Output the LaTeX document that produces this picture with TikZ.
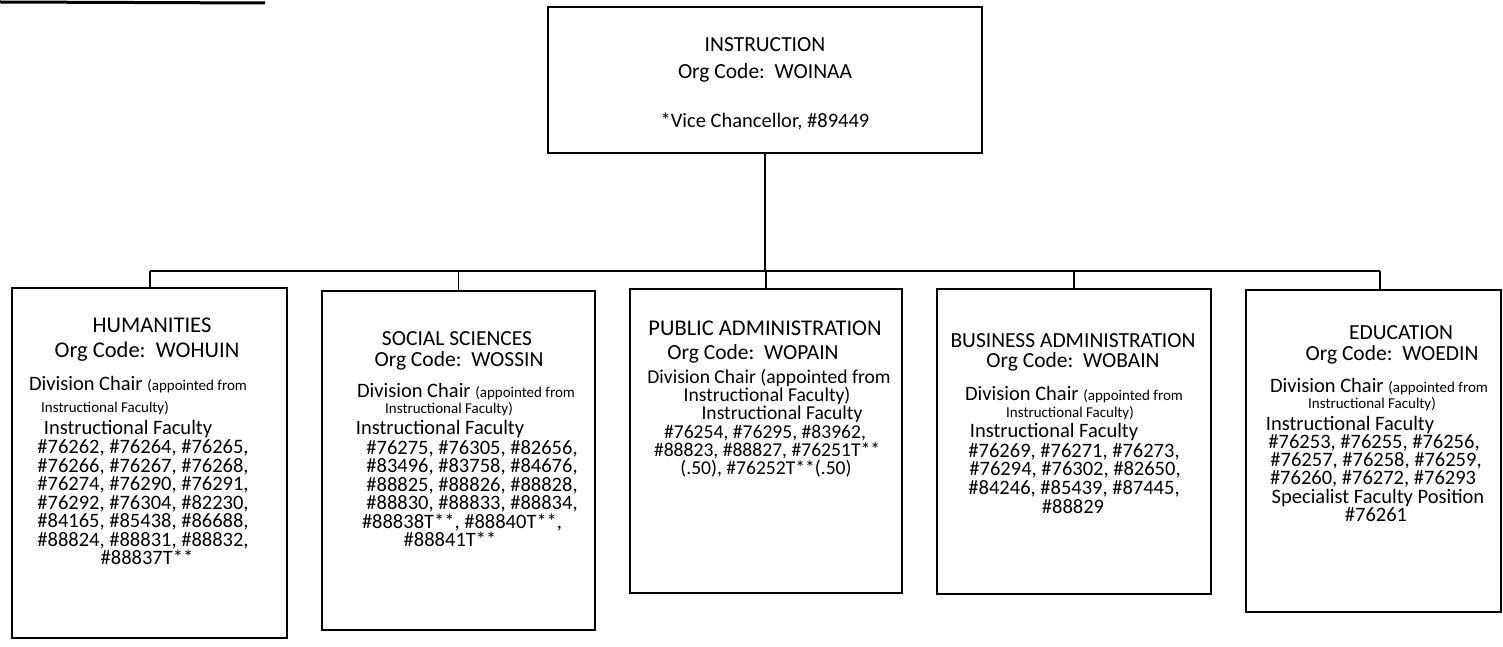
\documentclass[tikz,border=0pt]{standalone}
\usepackage{fontspec}
\setmainfont{Carlito}
\newcommand\ftitle{\fontsize{21.5}{22}\selectfont}
\newcommand\fbig{\fontsize{22.5}{22}\selectfont}
\newcommand\fmain{\fontsize{20.5}{18.5}\selectfont}
\newcommand\fpub{\fontsize{19.6}{18}\selectfont}
\newcommand\fsmall{\fontsize{15}{16}\selectfont}
\begin{document}
\begin{tikzpicture}[x=1pt,y=-1pt,
  box/.style={draw=black, line width=1.2pt, inner sep=0pt, rectangle},
  conn/.style={draw=black, line width=1.2pt},
  ttl/.style={inner sep=0pt, anchor=base, font=\ftitle},
  ln/.style={inner sep=0pt, anchor=base, font=\fmain},
  pln/.style={inner sep=0pt, anchor=base, font=\fpub},
  sml/.style={inner sep=0pt, anchor=base, font=\fsmall}]
\useasboundingbox[fill=white] (0,0) rectangle (1503,647);
% scan edge mark at top left
\coordinate (mA) at (0,2);
\coordinate (mB) at (265,3);
\draw[line width=3pt] (mA) -- (mB);

% boxes
\node[box, minimum width=434, minimum height=146] (top) at (765,80) {};
\node[box, minimum width=275, minimum height=350] (hum) at (149.5,463) {};
\node[box, minimum width=273, minimum height=339] (soc) at (458.5,460.5) {};
\node[box, minimum width=272, minimum height=304] (pub) at (766,441) {};
\node[box, minimum width=274, minimum height=305] (bus) at (1074,441.5) {};
\node[box, minimum width=255, minimum height=322] (edu) at (1373.5,451) {};

% connectors
\coordinate (busL) at (150,271);
\coordinate (busR) at (1380,271);
\draw[conn] (top.south) -- (top.south |- busL);
\draw[conn] (busL) -- (busR);
\draw[conn] (busL) -- (busL |- hum.north);
\draw[conn] (soc.north |- busL) -- (soc.north);
\draw[conn] (pub.north |- busL) -- (pub.north);
\draw[conn] (bus.north |- busL) -- (bus.north);
\draw[conn] (busR) -- (busR |- edu.north);

% top box text
\node[ttl] (t1) at (765,52) {INSTRUCTION};
\node[ttl] (t2) at (765,79) {Org Code:\ \ WOINAA};
\node[ln] (t3) at (765,128) {*Vice Chancellor, \#89449};

% humanities
\node[ttl, font=\fbig] (h1) at (152,332) {HUMANITIES};
\node[ttl, font=\fbig] (h2) at (147,357) {Org Code:\ \ WOHUIN};
\node[ln] (h3) at (138,390) {Division Chair {\fsmall(appointed from}};
\node[sml] (h4) at (105,412) {Instructional Faculty)};
\node[ln] (h5) at (128,434) {Instructional Faculty};
\node[ln] (h6) at (143,453.5) {\#76262, \#76264, \#76265,};
\node[ln] (h7) at (143,472) {\#76266, \#76267, \#76268,};
\node[ln] (h8) at (143,490.5) {\#76274, \#76290, \#76291,};
\node[ln] (h9) at (143,509) {\#76292, \#76304, \#82230,};
\node[ln] (h10) at (143,527.5) {\#84165, \#85438, \#86688,};
\node[ln] (h11) at (143,546) {\#88824, \#88831, \#88832,};
\node[ln] (h12) at (147,564.5) {\#88837T**};

% social sciences
\node[ttl] (s1) at (457,345) {SOCIAL SCIENCES};
\node[ttl] (s2) at (459,366) {Org Code:\ \ WOSSIN};
\node[ln] (s3) at (466,397) {Division Chair {\fsmall(appointed from}};
\node[sml] (s4) at (449,413) {Instructional Faculty)};
\node[ln] (s5) at (440,434) {Instructional Faculty};
\node[ln] (s6) at (472,454) {\#76275, \#76305, \#82656,};
\node[ln] (s7) at (472,472.5) {\#83496, \#83758, \#84676,};
\node[ln] (s8) at (472,491) {\#88825, \#88826, \#88828,};
\node[ln] (s9) at (472,509.5) {\#88830, \#88833, \#88834,};
\node[ln] (s10) at (462,528) {\#88838T**, \#88840T**,};
\node[ln] (s11) at (450,546.5) {\#88841T**};

% public administration
\node[ttl, font=\fbig] (p1) at (765,335) {PUBLIC ADMINISTRATION};
\node[ttl] (p2) at (753,359) {Org Code:\ \ WOPAIN};
\node[pln] (p3) at (769,383) {Division Chair (appointed from};
\node[pln] (p4) at (767,401) {Instructional Faculty)};
\node[pln] (p5) at (782,419) {Instructional Faculty};
\node[pln] (p6) at (765,438) {\#76254, \#76295, \#83962,};
\node[pln] (p7) at (767,456) {\#88823, \#88827, \#76251T**};
\node[pln] (p8) at (766,474) {(.50), \#76252T**(.50)};

% business administration
\node[ttl] (b1) at (1073,347) {BUSINESS ADMINISTRATION};
\node[ttl] (b2) at (1073,367) {Org Code:\ \ WOBAIN};
\node[ln] (b3) at (1074,400) {Division Chair {\fsmall(appointed from}};
\node[sml] (b4) at (1070,417) {Instructional Faculty)};
\node[ln] (b5) at (1054,437.5) {Instructional Faculty};
\node[ln] (b6) at (1074,457) {\#76269, \#76271, \#76273,};
\node[ln] (b7) at (1075,475.5) {\#76294, \#76302, \#82650,};
\node[ln] (b8) at (1074,494.5) {\#84246, \#85439, \#87445,};
\node[ln] (b9) at (1073,513.5) {\#88829};

% education
\node[ttl] (e1) at (1401,339) {EDUCATION};
\node[ttl] (e2) at (1392,360) {Org Code:\ \ WOEDIN};
\node[ln] (e3) at (1379,392) {Division Chair {\fsmall(appointed from}};
\node[sml] (e4) at (1372,408) {Instructional Faculty)};
\node[ln] (e5) at (1350,430) {Instructional Faculty};
\node[ln] (e6) at (1374,448.5) {\#76253, \#76255, \#76256,};
\node[ln] (e7) at (1376,466.5) {\#76257, \#76258, \#76259,};
\node[ln] (e8) at (1373,484.5) {\#76260, \#76272, \#76293};
\node[ln] (e9) at (1378,503.5) {Specialist Faculty Position};
\node[ln] (e10) at (1376,521.5) {\#76261};
\end{tikzpicture}
\end{document}
